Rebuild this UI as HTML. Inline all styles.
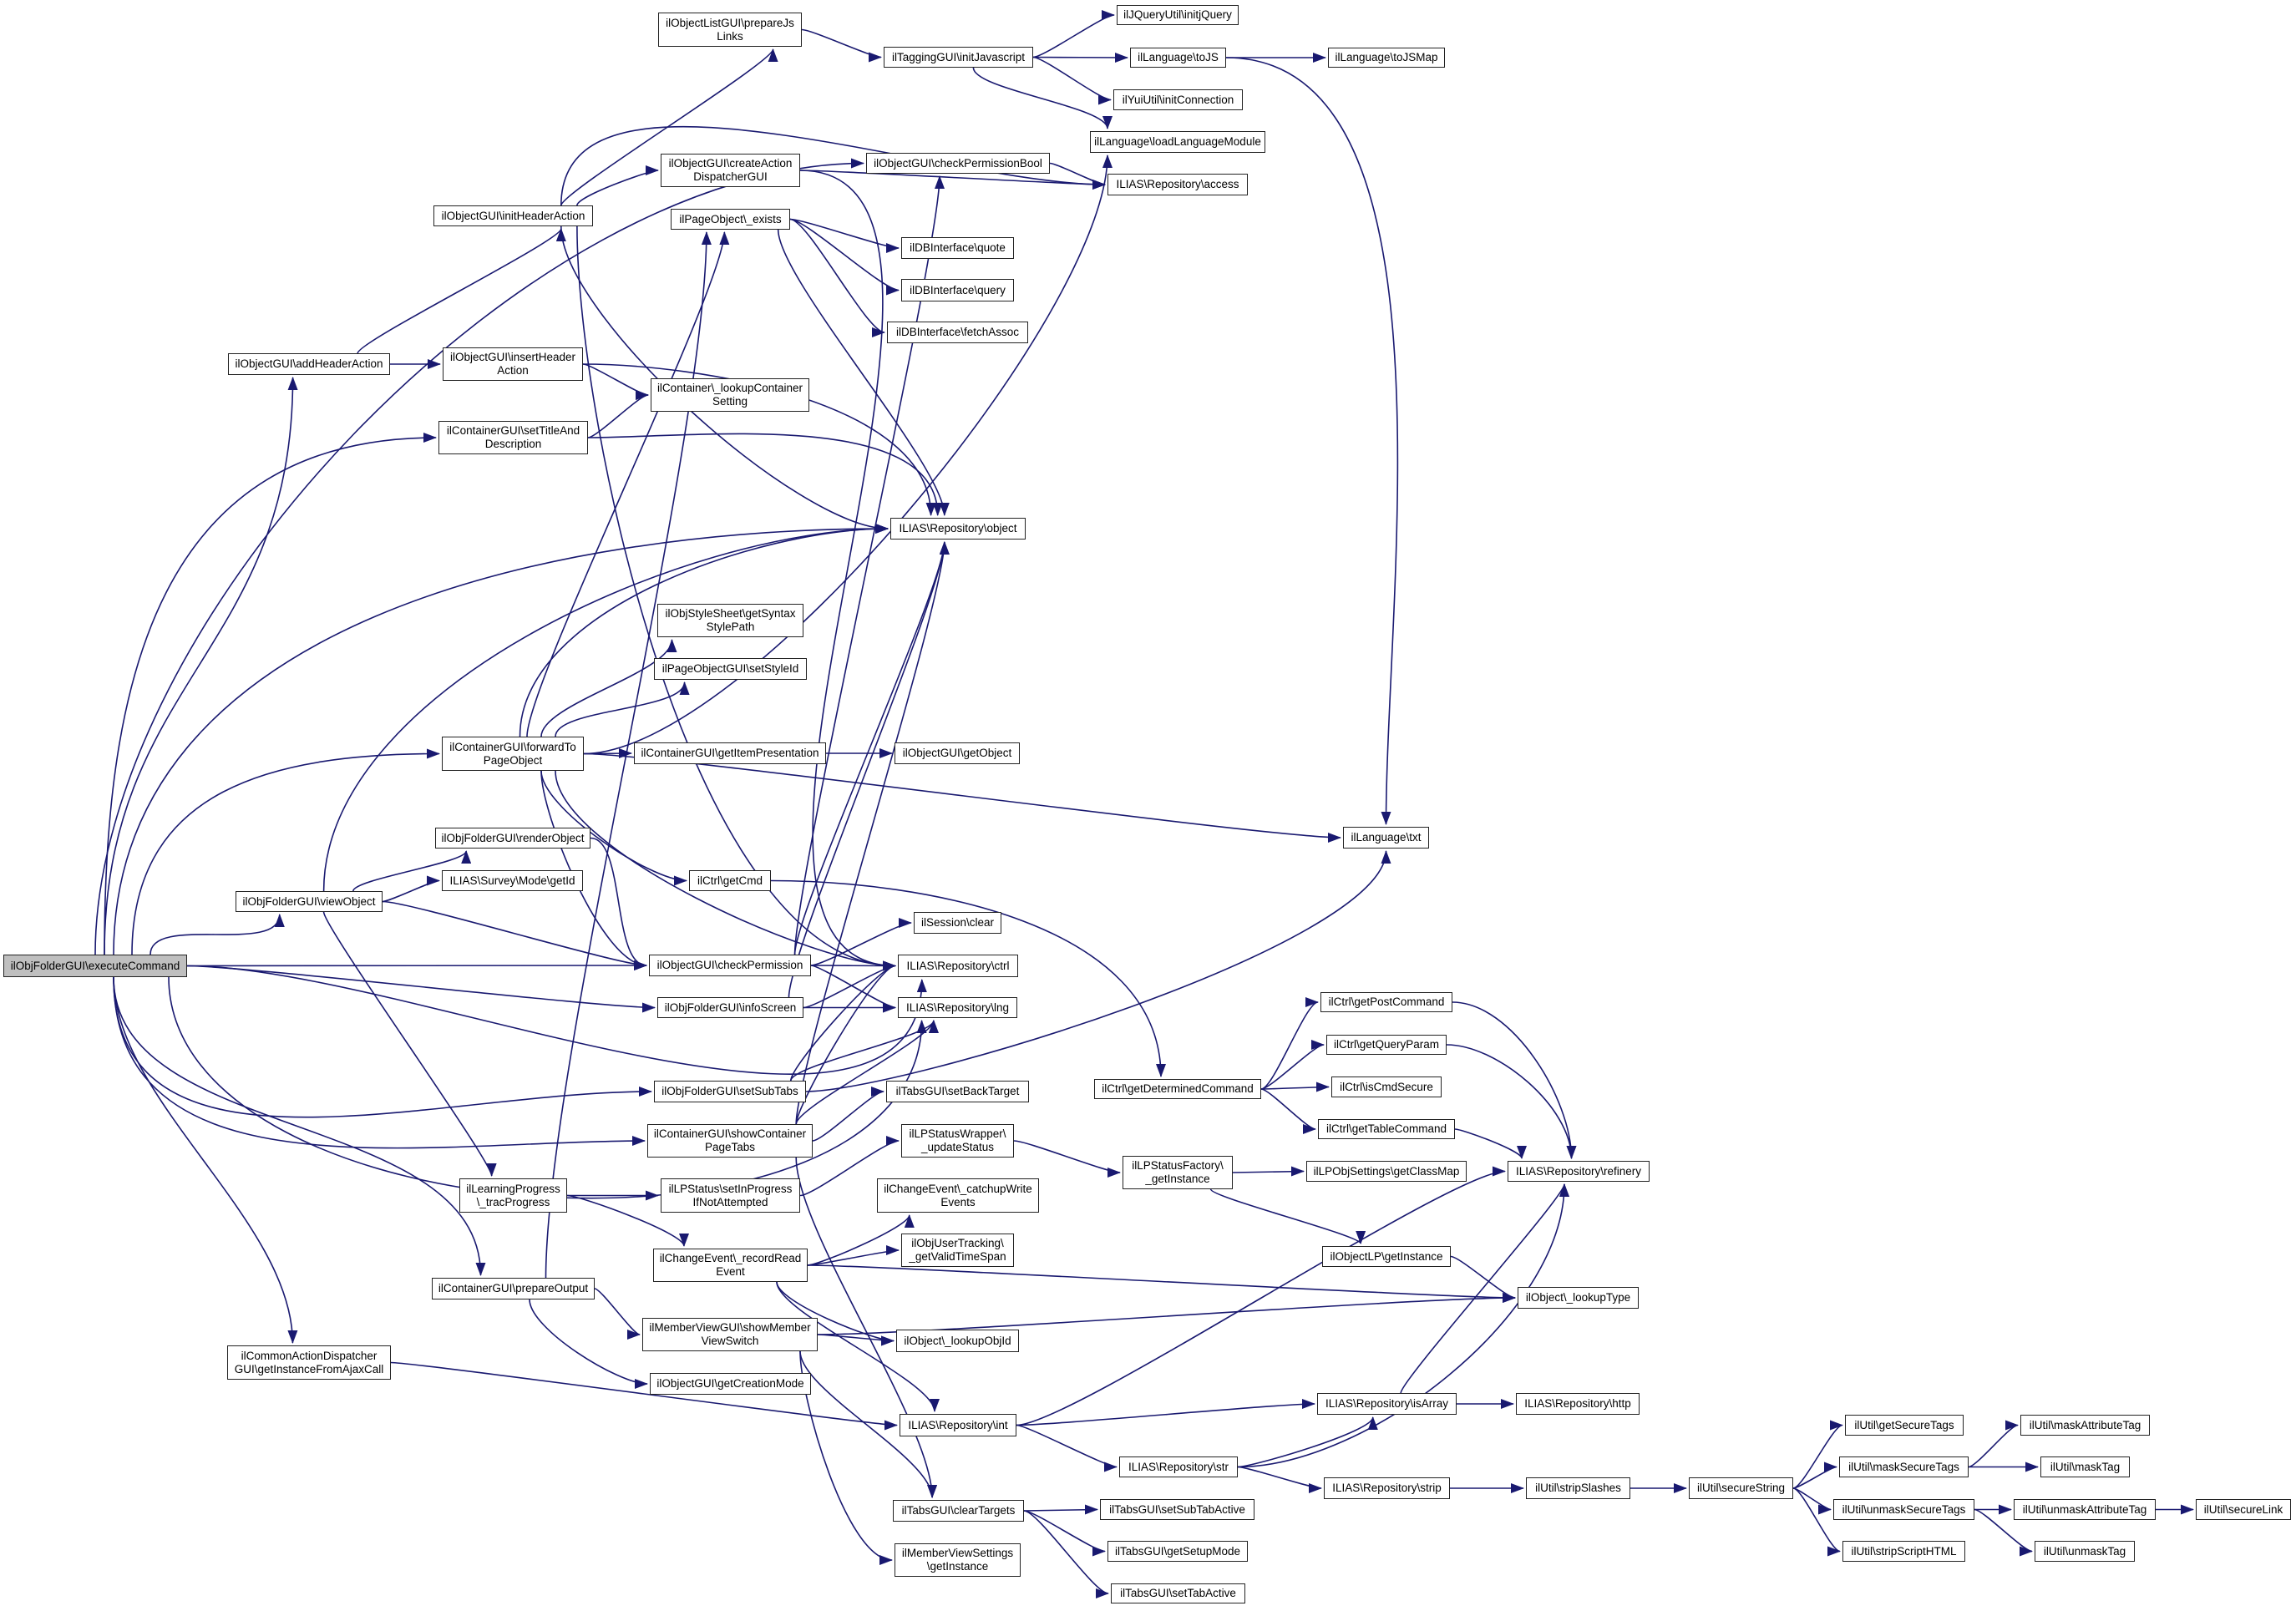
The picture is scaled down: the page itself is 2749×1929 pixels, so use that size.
<!DOCTYPE html>
<html><head><meta charset="utf-8"><style>
html,body{margin:0;padding:0;background:#fff;}
body{width:2749px;height:1929px;position:relative;overflow:hidden;font-family:"Liberation Sans",Arial,sans-serif;}
.n{position:absolute;box-sizing:border-box;border:1.5px solid #222;background:#fff;font-size:13.5px;line-height:16px;color:#000;display:flex;align-items:center;justify-content:center;text-align:center;white-space:nowrap;z-index:2;}
svg{position:absolute;left:0;top:0;z-index:1;}
</style></head><body>
<div class="n" id="E" style="left:4px;top:1143px;width:220px;height:27px;background:#bfbfbf">ilObjFolderGUI\executeCommand</div>
<div class="n" id="pjl" style="left:788px;top:15px;width:172px;height:41px">ilObjectListGUI\prepareJs<br>Links</div>
<div class="n" id="ijs" style="left:1058px;top:56px;width:179px;height:25px">ilTaggingGUI\initJavascript</div>
<div class="n" id="cad" style="left:791px;top:184px;width:167px;height:40px">ilObjectGUI\createAction<br>DispatcherGUI</div>
<div class="n" id="cpb" style="left:1037px;top:183px;width:220px;height:25px">ilObjectGUI\checkPermissionBool</div>
<div class="n" id="iha" style="left:519px;top:246px;width:191px;height:25px">ilObjectGUI\initHeaderAction</div>
<div class="n" id="ex" style="left:803px;top:250px;width:143px;height:25px">ilPageObject\_exists</div>
<div class="n" id="quote" style="left:1079px;top:284px;width:135px;height:26px">ilDBInterface\quote</div>
<div class="n" id="query" style="left:1079px;top:334px;width:135px;height:27px">ilDBInterface\query</div>
<div class="n" id="fa" style="left:1062px;top:385px;width:169px;height:26px">ilDBInterface\fetchAssoc</div>
<div class="n" id="aha" style="left:273px;top:423px;width:194px;height:26px">ilObjectGUI\addHeaderAction</div>
<div class="n" id="ins" style="left:530px;top:416px;width:168px;height:40px">ilObjectGUI\insertHeader<br>Action</div>
<div class="n" id="lcs" style="left:779px;top:453px;width:190px;height:40px">ilContainer\_lookupContainer<br>Setting</div>
<div class="n" id="std" style="left:525px;top:504px;width:179px;height:40px">ilContainerGUI\setTitleAnd<br>Description</div>
<div class="n" id="obj" style="left:1066px;top:620px;width:162px;height:26px">ILIAS\Repository\object</div>
<div class="n" id="ssp" style="left:787px;top:723px;width:175px;height:40px">ilObjStyleSheet\getSyntax<br>StylePath</div>
<div class="n" id="ssi" style="left:783px;top:788px;width:183px;height:26px">ilPageObjectGUI\setStyleId</div>
<div class="n" id="fwd" style="left:529px;top:882px;width:170px;height:41px">ilContainerGUI\forwardTo<br>PageObject</div>
<div class="n" id="gip" style="left:759px;top:889px;width:230px;height:26px">ilContainerGUI\getItemPresentation</div>
<div class="n" id="gob" style="left:1071px;top:889px;width:150px;height:26px">ilObjectGUI\getObject</div>
<div class="n" id="ro" style="left:521px;top:991px;width:186px;height:25px">ilObjFolderGUI\renderObject</div>
<div class="n" id="gid" style="left:529px;top:1042px;width:169px;height:25px">ILIAS\Survey\Mode\getId</div>
<div class="n" id="gcmd" style="left:825px;top:1042px;width:98px;height:25px">ilCtrl\getCmd</div>
<div class="n" id="vo" style="left:282px;top:1067px;width:176px;height:25px">ilObjFolderGUI\viewObject</div>
<div class="n" id="sc" style="left:1094px;top:1092px;width:105px;height:26px">ilSession\clear</div>
<div class="n" id="cp" style="left:777px;top:1143px;width:194px;height:26px">ilObjectGUI\checkPermission</div>
<div class="n" id="ctrl" style="left:1075px;top:1143px;width:144px;height:27px">ILIAS\Repository\ctrl</div>
<div class="n" id="is" style="left:787px;top:1194px;width:175px;height:25px">ilObjFolderGUI\infoScreen</div>
<div class="n" id="lng" style="left:1075px;top:1194px;width:143px;height:25px">ILIAS\Repository\lng</div>
<div class="n" id="sst" style="left:783px;top:1294px;width:182px;height:26px">ilObjFolderGUI\setSubTabs</div>
<div class="n" id="sbt" style="left:1061px;top:1294px;width:171px;height:26px">ilTabsGUI\setBackTarget</div>
<div class="n" id="scp" style="left:775px;top:1346px;width:198px;height:40px">ilContainerGUI\showContainer<br>PageTabs</div>
<div class="n" id="us" style="left:1079px;top:1346px;width:135px;height:40px">ilLPStatusWrapper\<br>_updateStatus</div>
<div class="n" id="tp" style="left:550px;top:1411px;width:129px;height:41px">ilLearningProgress<br>\_tracProgress</div>
<div class="n" id="sip" style="left:791px;top:1411px;width:167px;height:41px">ilLPStatus\setInProgress<br>IfNotAttempted</div>
<div class="n" id="cwe" style="left:1050px;top:1411px;width:194px;height:41px">ilChangeEvent\_catchupWrite<br>Events</div>
<div class="n" id="gvt" style="left:1079px;top:1477px;width:135px;height:40px">ilObjUserTracking\<br>_getValidTimeSpan</div>
<div class="n" id="rre" style="left:782px;top:1495px;width:185px;height:40px">ilChangeEvent\_recordRead<br>Event</div>
<div class="n" id="po" style="left:517px;top:1530px;width:195px;height:26px">ilContainerGUI\prepareOutput</div>
<div class="n" id="smv" style="left:769px;top:1578px;width:210px;height:40px">ilMemberViewGUI\showMember<br>ViewSwitch</div>
<div class="n" id="loi" style="left:1073px;top:1592px;width:147px;height:27px">ilObject\_lookupObjId</div>
<div class="n" id="cad2" style="left:272px;top:1611px;width:196px;height:41px">ilCommonActionDispatcher<br>GUI\getInstanceFromAjaxCall</div>
<div class="n" id="gcm" style="left:778px;top:1644px;width:193px;height:26px">ilObjectGUI\getCreationMode</div>
<div class="n" id="int" style="left:1077px;top:1693px;width:140px;height:27px">ILIAS\Repository\int</div>
<div class="n" id="ct" style="left:1069px;top:1796px;width:157px;height:26px">ilTabsGUI\clearTargets</div>
<div class="n" id="mvs" style="left:1071px;top:1848px;width:151px;height:40px">ilMemberViewSettings<br>\getInstance</div>
<div class="n" id="jq" style="left:1337px;top:6px;width:146px;height:24px">ilJQueryUtil\initjQuery</div>
<div class="n" id="tojs" style="left:1353px;top:57px;width:115px;height:24px">ilLanguage\toJS</div>
<div class="n" id="tojsm" style="left:1590px;top:57px;width:140px;height:24px">ilLanguage\toJSMap</div>
<div class="n" id="yui" style="left:1333px;top:107px;width:155px;height:25px">ilYuiUtil\initConnection</div>
<div class="n" id="llm" style="left:1305px;top:157px;width:210px;height:26px">ilLanguage\loadLanguageModule</div>
<div class="n" id="acc" style="left:1326px;top:208px;width:168px;height:26px">ILIAS\Repository\access</div>
<div class="n" id="txt" style="left:1608px;top:990px;width:103px;height:26px">ilLanguage\txt</div>
<div class="n" id="gpc" style="left:1581px;top:1188px;width:158px;height:24px">ilCtrl\getPostCommand</div>
<div class="n" id="gqp" style="left:1588px;top:1239px;width:144px;height:24px">ilCtrl\getQueryParam</div>
<div class="n" id="gdc" style="left:1310px;top:1292px;width:200px;height:24px">ilCtrl\getDeterminedCommand</div>
<div class="n" id="ics" style="left:1594px;top:1289px;width:132px;height:25px">ilCtrl\isCmdSecure</div>
<div class="n" id="gtc" style="left:1578px;top:1340px;width:164px;height:24px">ilCtrl\getTableCommand</div>
<div class="n" id="lpf" style="left:1344px;top:1384px;width:132px;height:40px">ilLPStatusFactory\<br>_getInstance</div>
<div class="n" id="gcl" style="left:1564px;top:1390px;width:192px;height:25px">ilLPObjSettings\getClassMap</div>
<div class="n" id="ref" style="left:1805px;top:1390px;width:170px;height:25px">ILIAS\Repository\refinery</div>
<div class="n" id="olp" style="left:1583px;top:1492px;width:154px;height:25px">ilObjectLP\getInstance</div>
<div class="n" id="lt" style="left:1817px;top:1541px;width:145px;height:26px">ilObject\_lookupType</div>
<div class="n" id="isa" style="left:1577px;top:1668px;width:167px;height:26px">ILIAS\Repository\isArray</div>
<div class="n" id="http" style="left:1815px;top:1668px;width:148px;height:26px">ILIAS\Repository\http</div>
<div class="n" id="str" style="left:1340px;top:1744px;width:142px;height:25px">ILIAS\Repository\str</div>
<div class="n" id="strip" style="left:1585px;top:1769px;width:151px;height:26px">ILIAS\Repository\strip</div>
<div class="n" id="ss" style="left:1827px;top:1769px;width:125px;height:26px">ilUtil\stripSlashes</div>
<div class="n" id="sec" style="left:2022px;top:1769px;width:125px;height:26px">ilUtil\secureString</div>
<div class="n" id="gst" style="left:2209px;top:1694px;width:142px;height:25px">ilUtil\getSecureTags</div>
<div class="n" id="mst" style="left:2202px;top:1744px;width:155px;height:25px">ilUtil\maskSecureTags</div>
<div class="n" id="ust" style="left:2195px;top:1795px;width:169px;height:25px">ilUtil\unmaskSecureTags</div>
<div class="n" id="ssh" style="left:2206px;top:1845px;width:147px;height:25px">ilUtil\stripScriptHTML</div>
<div class="n" id="mat" style="left:2419px;top:1694px;width:155px;height:25px">ilUtil\maskAttributeTag</div>
<div class="n" id="mt" style="left:2443px;top:1744px;width:107px;height:25px">ilUtil\maskTag</div>
<div class="n" id="uat" style="left:2411px;top:1795px;width:170px;height:25px">ilUtil\unmaskAttributeTag</div>
<div class="n" id="sl" style="left:2629px;top:1795px;width:114px;height:25px">ilUtil\secureLink</div>
<div class="n" id="ut" style="left:2436px;top:1845px;width:120px;height:25px">ilUtil\unmaskTag</div>
<div class="n" id="ssta" style="left:1317px;top:1795px;width:185px;height:25px">ilTabsGUI\setSubTabActive</div>
<div class="n" id="gsm" style="left:1326px;top:1845px;width:168px;height:25px">ilTabsGUI\getSetupMode</div>
<div class="n" id="sta" style="left:1330px;top:1896px;width:161px;height:24px">ilTabsGUI\setTabActive</div>
<svg id="g" width="2749" height="1929" xmlns="http://www.w3.org/2000/svg">
<defs><marker id="a" markerUnits="userSpaceOnUse" markerWidth="16" markerHeight="12" refX="15" refY="6" orient="auto"><path d="M0,0 L16,6 L0,12 z" fill="#191970"/></marker></defs>
<g id="eg" fill="none" stroke="#191970" stroke-width="1.6"></g>
</svg>
<script>
var E=[
["E","aha","t.55","b.4",0.45],["E","std","t.55","l",0.45],["E","obj","t.6","l",0.45],["E","fwd","t.7","l",0.45],["E","vo","t.8","b.3",0.3],["E","cp","r","l"],["E","is","r","l"],["E","lng","b.9","b.2",0.35],["E","sst","b.6","l",0.4],["E","scp","b.6","l",0.4],["E","po","b.6","t.3",0.35],["E","cad2","b.6","t.4",0.3],["E","cpb","t.5","l",0.45],["E","ctrl","r","b.2",0.3],
["iha","pjl","t.8","b.8",0.05],["iha","cad","t.9","l",0.1],["iha","acc","t.8","l",0.3],["iha","ctrl","b.9","l",0.25],["iha","obj","b.8","l",0.2],
["aha","iha","t.8","b.8",0.05],["aha","ins","r","l"],
["ins","lcs","r","l"],["ins","obj","r","t.3",0.3],
["std","lcs","r","l"],["std","obj","r","t.35",0.3],
["pjl","ijs","r","l"],
["ijs","jq","r","l"],["ijs","tojs","r","l"],["ijs","yui","r","l"],["ijs","llm","b.6","t.1",0.15],
["tojs","tojsm","r","l"],["tojs","txt","r","t.5",0.3],
["cad","acc","r","l"],["cad","ctrl","r","l",0.3],
["cpb","acc","r","l"],
["ex","quote","r","l"],["ex","query","r","l"],["ex","fa","r","l"],["ex","obj","b.9","t.4",0.15],
["fwd","ex","t.6","b.45",0.1],["fwd","obj","t.55","l",0.3],["fwd","ssp","t.7","b.1",0.2],["fwd","ssi","t.8","b.2",0.2],["fwd","gip","r","l"],["fwd","txt","r","l",0.1],["fwd","gcmd","b.7","l",0.2],["fwd","cp","b.7","l",0.2],["fwd","ctrl","b.8","l",0.2],["fwd","llm","r","b.1",0.2],
["gip","gob","r","l"],
["vo","ro","t.8","b.2",0.1],["vo","gid","r","l"],["vo","cp","r","l",0.1],["vo","tp","b.6","t.3",0.05],["vo","obj","t.6","l",0.3],
["ro","cp","r","l",0.25],
["gcmd","gdc","r","t.4",0.35],
["cp","sc","r","l"],["cp","ctrl","r","l"],["cp","lng","r","l",0.1],["cp","obj","t.9","b.4",0.1],["cp","cpb","t.9","b.4",0.1],
["is","ctrl","r","l"],["is","lng","r","l"],["is","obj","t.9","b.4",0.1],
["sst","ctrl","t.9","l",0.1],["sst","lng","t.9","b.3",0.1],["sst","txt","r","b.5",0.15],
["scp","sbt","r","l"],["scp","ctrl","t.9","l",0.1],["scp","lng","t.9","b.3",0.1],["scp","obj","t.9","b.4",0.1],["scp","ct","b.9","t.3",0.2],
["tp","sip","r","l"],["tp","rre","r","t.2",0.1],
["sip","us","r","l"],
["us","lpf","r","l"],
["lpf","gcl","r","l"],["lpf","olp","b.8","t.3",0.05],
["olp","lt","r","l"],
["rre","cwe","r","b.2",0.1],["rre","gvt","r","l"],["rre","lt","r","l",0.1],["rre","loi","b.8","l",0.15],["rre","int","b.8","t.3",0.15],
["po","smv","r","l",0.1],["po","gcm","b.6","l",0.2],["po","ex","t.7","b.3",0.2],
["smv","loi","r","l"],["smv","lt","r","l",0.15],["smv","ct","b.9","t.3",0.2],["smv","mvs","b.9","l",0.2],
["cad2","int","r","l",0.05],
["int","isa","r","l"],["int","str","r","l",0.1],["int","ref","r","l",0.1],
["isa","http","r","l"],["isa","ref","t.6","b.4",0.05],
["str","isa","r","b.4",0.1],["str","strip","r","l"],["str","ref","r","b.4",0.3],
["strip","ss","r","l"],["ss","sec","r","l"],
["sec","gst","r","l"],["sec","mst","r","l"],["sec","ust","r","l"],["sec","ssh","r","l"],
["mst","mat","r","l"],["mst","mt","r","l"],
["ust","uat","r","l"],["ust","ut","r","l"],["uat","sl","r","l"],
["gdc","gpc","r","l"],["gdc","gqp","r","l"],["gdc","ics","r","l"],["gdc","gtc","r","l"],
["gpc","ref","r","t.45",0.3],["gqp","ref","r","t.45",0.3],["gtc","ref","r","t.1",0.1],
["ct","ssta","r","l"],["ct","gsm","r","l"],["ct","sta","r","l"]
];
function R(id){var e=document.getElementById(id);return{x:e.offsetLeft,y:e.offsetTop,w:e.offsetWidth,h:e.offsetHeight};}
function P(r,s){var c=s[0],f=s.length>1?parseFloat("0"+s.slice(1)):0.5;
if(c=="r")return[r.x+r.w,r.y+r.h/2,1,0];if(c=="l")return[r.x,r.y+r.h/2,-1,0];
if(c=="t")return[r.x+r.w*f,r.y,0,-1];return[r.x+r.w*f,r.y+r.h,0,1];}
var g=document.getElementById("eg"),h="";
E.forEach(function(e){var a=P(R(e[0]),e[2]),b=P(R(e[1]),e[3]);
var d=Math.hypot(b[0]-a[0],b[1]-a[1]),m=e[4]===undefined?0.12:e[4],k=Math.min(d*m,400);
var ex=b[0]+b[2]*3,ey=b[1]+b[3]*3;
h+='<path d="M'+a[0]+','+a[1]+' C'+(a[0]+a[2]*k)+','+(a[1]+a[3]*k)+' '+(ex+b[2]*k)+','+(ey+b[3]*k)+' '+ex+','+ey+'" marker-end="url(#a)"/>';});
g.innerHTML=h;
</script>
</body></html>
